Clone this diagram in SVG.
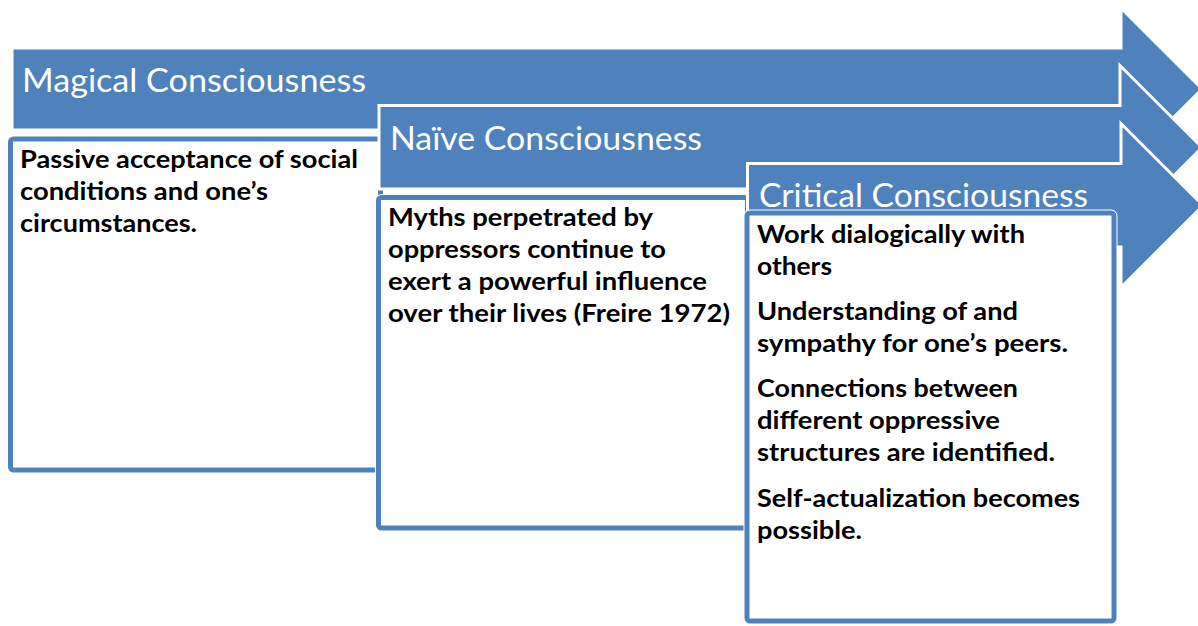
<svg xmlns="http://www.w3.org/2000/svg" width="1198" height="626" viewBox="0 0 1198 626">
<style>
.arrow{fill:#4f81bd;stroke:#ffffff;stroke-width:3;stroke-linejoin:miter}
.halo{fill:none;stroke:#ffffff;stroke-width:7}
.box{fill:#ffffff;stroke:#4f81bd;stroke-width:5}
.title{font-family:Lato,"Liberation Sans",sans-serif;font-size:33px;fill:#ffffff}
.body{font-family:Lato,"Liberation Sans",sans-serif;font-size:25px;font-weight:bold;fill:#000000}
</style>
<rect width="1198" height="626" fill="#ffffff"/>
<g id="magical">
<polygon class="arrow" points="12,48 1121,48 1121,8 1202,89 1121,170 1121,130 12,130"/>
<text class="title" x="22" y="92" textLength="344" lengthAdjust="spacingAndGlyphs">Magical Consciousness</text>
</g>
<g id="magical-box">
<rect class="halo" x="10.5" y="139" width="370" height="331" rx="3"/>
<rect class="box" x="10.5" y="139" width="370" height="331" rx="3"/>
<text class="body" x="20" y="168" textLength="338" lengthAdjust="spacingAndGlyphs">Passive acceptance of social</text>
<text class="body" x="20" y="200" textLength="248" lengthAdjust="spacingAndGlyphs">conditions and one’s</text>
<text class="body" x="20" y="232" textLength="177" lengthAdjust="spacingAndGlyphs">circumstances.</text>
</g>
<g id="naive">
<polygon class="arrow" points="379,105.5 1120,105.5 1120,65.5 1202,147.5 1120,229.5 1120,189 379,189"/>
<text class="title" x="390" y="150" textLength="312" lengthAdjust="spacingAndGlyphs">Naïve Consciousness</text>
</g>
<g id="naive-box">
<rect class="halo" x="378.5" y="197.5" width="369" height="330.5" rx="3"/>
<rect class="box" x="378.5" y="197.5" width="369" height="330.5" rx="3"/>
<text class="body" x="388" y="226" textLength="265" lengthAdjust="spacingAndGlyphs">Myths perpetrated by</text>
<text class="body" x="388" y="258" textLength="278" lengthAdjust="spacingAndGlyphs">oppressors continue to</text>
<text class="body" x="388" y="290" textLength="319" lengthAdjust="spacingAndGlyphs">exert a powerful influence</text>
<text class="body" x="388" y="322" textLength="342" lengthAdjust="spacingAndGlyphs">over their lives (Freire 1972)</text>
</g>
<g id="critical">
<polygon class="arrow" points="747.5,163.5 1121,163.5 1121,123.5 1203,205.5 1121,287.5 1121,247 747.5,247"/>
</g>
<g id="critical-box">
<rect class="halo" x="747" y="213" width="367" height="408" rx="3"/>
<rect class="box" x="747" y="213" width="367" height="408" rx="3"/>
<text class="title" x="759" y="207" textLength="329" lengthAdjust="spacingAndGlyphs">Critical Consciousness</text>
<text class="body" x="757" y="243" textLength="268" lengthAdjust="spacingAndGlyphs">Work dialogically with</text>
<text class="body" x="757" y="275" textLength="75" lengthAdjust="spacingAndGlyphs">others</text>
<text class="body" x="757" y="320" textLength="261" lengthAdjust="spacingAndGlyphs">Understanding of and</text>
<text class="body" x="757" y="352" textLength="311" lengthAdjust="spacingAndGlyphs">sympathy for one’s peers.</text>
<text class="body" x="757" y="397" textLength="261" lengthAdjust="spacingAndGlyphs">Connections between</text>
<text class="body" x="757" y="429" textLength="243" lengthAdjust="spacingAndGlyphs">different oppressive</text>
<text class="body" x="757" y="461" textLength="298" lengthAdjust="spacingAndGlyphs">structures are identified.</text>
<text class="body" x="757" y="507" textLength="323" lengthAdjust="spacingAndGlyphs">Self-actualization becomes</text>
<text class="body" x="757" y="539" textLength="105" lengthAdjust="spacingAndGlyphs">possible.</text>
</g>
<g id="connectors"/>
</svg>
